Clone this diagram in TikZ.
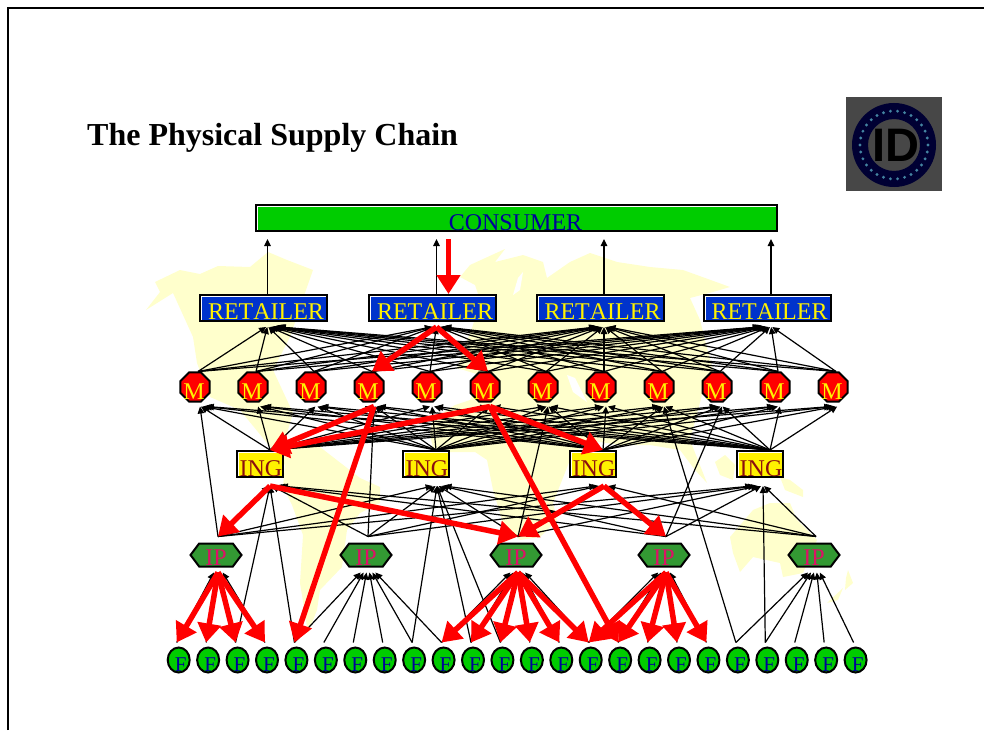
\documentclass[tikz,border=0pt]{standalone}
\usepackage{fontspec}
\setmainfont[Kerning=Off]{Liberation Serif}
\setsansfont{Liberation Sans}
\usepackage{tikz}
\usetikzlibrary{calc,math}
\usetikzlibrary{arrows.meta}
\usetikzlibrary{shapes.geometric,shapes.symbols}

\definecolor{mapyellow}{HTML}{FFFFCC}
\definecolor{retailblue}{HTML}{0033CC}
\definecolor{leafgreen}{HTML}{00CC00}
\definecolor{inknavy}{HTML}{000099}
\definecolor{ipgreen}{HTML}{339933}
\definecolor{ipred}{HTML}{DD1166}
\definecolor{ingred}{HTML}{8B0F0F}

\newcommand\lowtext[3]{\makebox[0pt]{\hspace{#1}\raisebox{#2}[0pt][0pt]{#3}}}

\tikzset{
  tier/.style={draw=black, line width=2pt, inner sep=0pt, font=\fontsize{24}{24}\selectfont},
  bevel/.style={path picture={
    \draw[white, line width=4pt] (path picture bounding box.south west) -- (path picture bounding box.north west) -- (path picture bounding box.north east);}},
  consumer/.style={tier, bevel, fill=leafgreen, text=inknavy, minimum width=521pt, minimum height=26pt},
  retailer/.style={tier, bevel, fill=retailblue, text=yellow, minimum width=127pt, minimum height=26pt},
  maker/.style={tier, regular polygon, regular polygon sides=8, fill=red, text=yellow, minimum size=31.4pt},
  ingredient/.style={tier, bevel, fill=yellow, text=ingred, minimum width=46pt, minimum height=26pt},
  packer/.style={tier, signal, signal to=east and west, signal pointer angle=106, fill=ipgreen, text=ipred, minimum width=51pt, minimum height=23pt},
  farm/.style={tier, ellipse, fill=leafgreen, text=inknavy, minimum width=22pt, minimum height=25pt, font=\fontsize{21}{21}\selectfont},
  flow/.style={draw=black, line width=1.2pt, -{Triangle[length=7pt,width=6.5pt]}},
  demand/.style={draw=red, line width=5.5pt, -{Triangle[length=19pt,width=23pt]}},
}

\begin{document}
\begin{tikzpicture}[x=1pt, y=-1pt]
  \useasboundingbox (0,0) rectangle (984,730);

  % World map
  \fill[mapyellow] (146,310) -- (160,292) -- (155,282) -- (180,270) -- (200,274) -- (218,266) -- (250,267) -- (268,252)
    -- (287,260) -- (313,270) -- (306,290) -- (290,337) -- (273,370) -- (293,413) -- (285,440) -- (320,447) -- (360,478)
    -- (380,487) -- (380,503) -- (360,513) -- (347,530) -- (342,567) -- (320,590) -- (317,610) -- (308,633) -- (300,583)
    -- (303,535) -- (292,505) -- (283,487) -- (285,465) -- (240,410) -- (210,397) -- (197,363) -- (193,337) -- (173,293) -- cycle;
  \fill[mapyellow] (473,325) -- (480,300) -- (475,285) -- (460,277) -- (470,265) -- (505,249) -- (495,262) -- (523,255)
    -- (543,262) -- (547,278) -- (570,262) -- (590,253) -- (617,262) -- (650,267) -- (683,270) -- (730,287) -- (713,292)
    -- (690,298) -- (700,320) -- (705,340) -- (713,370) -- (702,395) -- (690,440) -- (707,483) -- (695,470) -- (680,450)
    -- (650,445) -- (620,445) -- (587,440) -- (570,460) -- (553,503) -- (557,520) -- (540,537) -- (520,540) -- (503,523)
    -- (493,490) -- (487,460) -- (475,452) -- (447,452) -- (433,448) -- (430,435) -- (432,420) -- (455,405) -- (470,400)
    -- (480,375) -- (457,368) -- cycle;
  \fill[mapyellow] (730,537) -- (753,510) -- (770,503) -- (790,503) -- (797,520) -- (817,540) -- (803,573) -- (783,577)
    -- (780,563) -- (753,557) -- (740,572) -- (733,553) -- cycle;
  \fill[mapyellow] (715,462) -- (725,455) -- (735,465) -- (733,480) -- (720,475) -- cycle;
  \fill[mapyellow] (780,477) -- (790,480) -- (803,490) -- (803,497) -- (785,490) -- cycle;
  \fill[mapyellow] (848,570) -- (853,583) -- (845,590) -- (846,578) -- cycle;
  \fill[mapyellow] (827,603) -- (843,588) -- (838,600) -- cycle;
  \fill[white] (567,375) -- (575,378) -- (587,402) -- (573,392) -- cycle;
  \fill[white] (513,295) -- (518,278) -- (523,272) -- (520,290) -- cycle;

  % Slide frame, title and logo
  \draw[line width=2pt] (8,730) -- (8,8) -- (984,8);
  \node[anchor=base west, inner sep=0pt, font=\fontsize{32}{32}\selectfont\bfseries] (title) at (87,146) {The Physical Supply Chain};
  \fill[black!72] (846,97) rectangle (942,191);
  \fill[black!80!blue, even odd rule] (894,145) circle (42) (894,145) circle (26);
  \foreach \a in {0,12,...,348} {
    \fill[cyan!60!black] (894,145) ++(\a:34) circle (1.6);
  }
  \node[inner sep=0pt, font=\sffamily\bfseries\fontsize{47}{47}\selectfont] (logo) at (896,145) {ID};

  % Tiers
  \node[consumer] (C) at (516.5,218) {\lowtext{-2pt}{-13pt}{CONSUMER}};
  \foreach \i/\x in {1/263.5,2/432.5,3/600,4/767} {
    \node[retailer] (R\i) at (\x,308) {\lowtext{5pt}{-11pt}{RETAILER}};
    \coordinate (R\i top) at ([xshift=4]R\i.north);
    \coordinate (R\i bot) at ([shift={(4,5)}]R\i.south);
    \coordinate (C\i) at (R\i top |- 0,239);
  }
  \foreach \i in {1,...,12} {
    \tikzmath{\mx = 195 + 58*(\i-1);};
    \node[maker] (M\i) at (\mx,387) {\lowtext{-2pt}{-12pt}{M}};
    \coordinate (M\i top) at ([xshift=3]M\i.north);
    \coordinate (M\i bot) at ([shift={(5,4)}]M\i.south);
  }
  \foreach \i/\x/\d in {1/260/10,2/426/11,3/593/11,4/760/3} {
    \node[ingredient] (I\i) at (\x,464) {\lowtext{2pt}{-12pt}{ING}};
    \coordinate (I\i top) at ([xshift=10]I\i.north);
    \coordinate (I\i bot) at ([shift={(\d,8)}]I\i.south);
  }
  \foreach \i/\x in {1/216,2/366,3/516,4/664,5/814} {
    \node[packer] (P\i) at (\x,555) {\lowtext{0pt}{-10pt}{IP}};
    \coordinate (P\i top) at ([shift={(2,-6)}]P\i.north);
    \coordinate (P\i bot) at ([shift={(2,5)}]P\i.south);
  }
  \foreach \i in {1,...,24} {
    \tikzmath{\fx = 178.7 + 29.43*(\i-1);};
    \node[farm] (F\i) at (\fx,660) {\lowtext{4pt}{-11pt}{F}};
    \coordinate (F\i top) at ([shift={(-2,-4)}]F\i.north);
  }

  % Goods going up
  \foreach \r in {1,...,4} {
    \draw[flow] (R\r top) -- (C\r);
    \foreach \m in {1,...,12} {
      \draw[flow] (M\m top) -- ($(R\r bot)!.02!(R\r bot -| M\m top)$);
    }
    \foreach \m in {1,...,12} {
      \draw[flow] (I\r top) -- ($(M\m bot)!.012!(M\m bot -| I\r top)$);
    }
    \foreach \p in {1,...,5} {
      \draw[flow] (P\p top) -- ($(I\r bot)!.02!(I\r bot -| P\p top)$);
    }
  }
  \foreach \p/\ffirst/\flast in {1/1/4,2/5/10,3/10/15,4/15/19,5/20/24} {
    \foreach \f in {\ffirst,...,\flast} {
      \draw[flow] (F\f top) -- ($(P\p bot)!.1!(P\p bot -| F\f top)$);
    }
  }
  \foreach \p/\m in {1/1,2/4,3/7,4/10} {
    \draw[flow] (P\p top) -- (M\m bot);
  }
  \draw[flow] (F20top) -- (M9bot);
  \foreach \f/\i in {3/1,5/1,9/2,11/2,12/2,21/4} {
    \draw[flow] (F\f top) -- (I\i bot);
  }

  % Demand coming down
  \coordinate (R2in) at ([xshift=16]R2.north);
  \coordinate (Cout) at (R2in |- 0,239);
  \draw[demand] (Cout) -- (R2in);
  \foreach \m in {4,6} {
    \draw[demand] (R2bot) -- (M\m top);
    \draw[demand] (M\m bot) -- (I1top);
  }
  \draw[demand] (M6bot) -- (I3top);
  \draw[demand] (M4bot) -- (F5top);
  \draw[demand] (M6bot) -- (F16top);
  \draw[demand] (I1bot) -- (P1top);
  \draw[demand] (I1bot) -- (P3top);
  \draw[demand] (I3bot) -- (P3top);
  \draw[demand] (I3bot) -- (P4top);
  \foreach \p/\ffirst/\flast in {1/1/4,3/10/15,4/15/19} {
    \foreach \f in {\ffirst,...,\flast} {
      \draw[demand] (P\p bot) -- (F\f top);
    }
  }
\end{tikzpicture}
\end{document}
